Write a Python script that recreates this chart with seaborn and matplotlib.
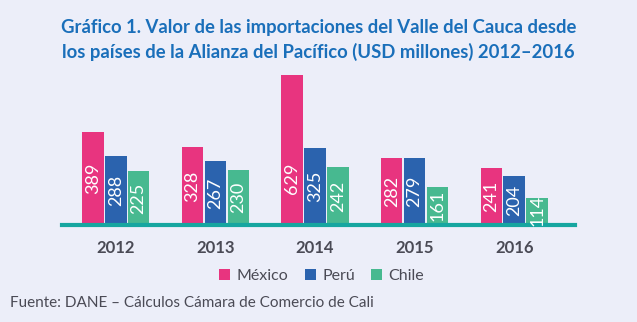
import matplotlib
matplotlib.use("Agg")
import matplotlib.pyplot as plt
import seaborn as sns
import pandas as pd
from matplotlib.patches import Patch

years = ["2012", "2013", "2014", "2015", "2016"]
mexico = [389, 328, 629, 282, 241]
peru = [288, 267, 325, 279, 204]
chile = [225, 230, 242, 161, 114]
series_names = ["México", "Perú", "Chile"]
colors = ["#E8347F", "#2B63AE", "#47B990"]
title = "Gráfico 1. Valor de las importaciones del Valle del Cauca desde\nlos países de la Alianza del Pacífico (USD millones) 2012–2016"
source = "Fuente: DANE – Cálculos Cámara de Comercio de Cali"

rows = []
for name, vals in zip(series_names, [mexico, peru, chile]):
    for y, v in zip(years, vals):
        rows.append({"year": y, "country": name, "value": v})
df = pd.DataFrame(rows)

bg = "#ECEEF9"
sns.set_theme(style="white")
plt.rcParams["font.family"] = ["Lato", "DejaVu Sans"]

fig = plt.figure(figsize=(6.37, 3.22), dpi=100, facecolor=bg)
ax = fig.add_axes([62/637, 1-225/322, 513/637, 155/322])
ax.set_facecolor(bg)

sns.barplot(data=df, x="year", y="value", hue="country", order=years,
            hue_order=series_names, palette=colors, width=0.69, gap=0.06,
            ax=ax, legend=False, edgecolor="none", saturation=1)

ax.set_ylim(0, 650)
ax.set_xlim(-0.54, 4.61)
for s in ["top", "right", "left"]:
    ax.spines[s].set_visible(False)
ax.spines["bottom"].set_color("#16A6A0")
ax.spines["bottom"].set_linewidth(3)
ax.set_yticks([])
ax.set_xlabel("")
ax.set_ylabel("")
ax.tick_params(axis="x", length=0, pad=11)
for lbl in ax.get_xticklabels():
    lbl.set_fontweight("bold")
    lbl.set_fontsize(12)
    lbl.set_color("#4A4A55")

for cont in ax.containers:
    for bar in cont:
        h = bar.get_height()
        xc = bar.get_x() + bar.get_width() / 2
        ax.text(xc, min(max(h / 2, 60), 195), f"{int(round(h))}", rotation=90,
                ha="center", va="center", color="white", fontsize=13)

fig.text(0.5, 0.875, title, ha="center", va="center", fontsize=13.3,
         fontweight="bold", color="#1A6FBA", linespacing=1.45)

handles = [Patch(facecolor=c, edgecolor="none") for c in colors]
fig.legend(handles, series_names, loc="center", bbox_to_anchor=(0.505, 1-276/322),
           ncol=3, frameon=False, fontsize=11.5, handlelength=0.7, handleheight=0.7,
           handletextpad=0.4, columnspacing=1.0, labelcolor="#4A4A55")

fig.text(10/637, 1-303/322, source, ha="left", va="center", fontsize=11, color="#4A4A55")

fig.savefig("out.png", dpi=100, facecolor=bg)
